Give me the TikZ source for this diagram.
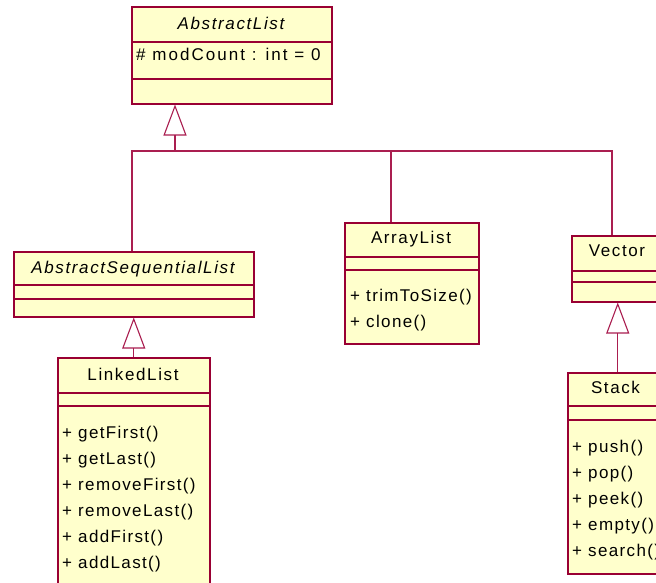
\documentclass[tikz,border=0pt]{standalone}
\usepackage{fontspec}
\setmainfont{Liberation Sans}
\newfontfamily\opsfont[LetterSpace=8]{Liberation Sans}
\newfontfamily\ttlfont[LetterSpace=9.5]{Liberation Sans}
\newfontfamily\attfont[LetterSpace=12]{Liberation Sans}
\usetikzlibrary{arrows.meta}
\definecolor{rr}{RGB}{153,0,51}
\definecolor{linkc}{RGB}{170,30,80}
\definecolor{classfill}{RGB}{255,255,204}
\tikzset{
  cls/.style={draw=rr, fill=classfill, line width=1.5pt, inner sep=0pt, anchor=north west},
  sepline/.style={draw=rr, line width=1.1pt},
  link/.style={draw=linkc, line width=1.1pt},
  gen/.style={link, -{Triangle[open, length=31pt, width=23pt, fill=white]}},
  ttl/.style={font=\ttlfont\fontsize{17}{20}\selectfont, anchor=base, inner sep=0pt},
  ittl/.style={font=\ttlfont\itshape\fontsize{17}{20}\selectfont, anchor=base, inner sep=0pt},
  att/.style={font=\attfont\fontsize{17}{20}\selectfont, anchor=base west, inner sep=0pt},
  op/.style={font=\opsfont\fontsize{17}{20}\selectfont, anchor=base west, inner sep=0pt},
}
\newcommand{\seps}[3]{%
  \draw[sepline] ([yshift=-#2pt]#1.north west) -- ([yshift=-#2pt]#1.north east);
  \draw[sepline] ([yshift=-#3pt]#1.north west) -- ([yshift=-#3pt]#1.north east);}
\begin{document}
\begin{tikzpicture}[x=1pt,y=-1pt]
\useasboundingbox (0,0) rectangle (656,582);
\fill[white] (0,0) rectangle (656,582);
\clip (0,0) rectangle (656,582);

% AbstractList
\node[cls, minimum width=200pt, minimum height=97pt] (al) at (131,6) {};
\seps{al}{36}{73}
\node[ittl] (alname) at (231,29.5) {AbstractList};
\node[att] (alatt) at (136,60) {\# modCount : int = 0};

% AbstractSequentialList
\node[cls, minimum width=240pt, minimum height=65pt] (asl) at (13,251) {};
\seps{asl}{34}{48}
\node[ittl] (aslname) at (133,273.3) {AbstractSequentialList};

% LinkedList
\node[cls, minimum width=152pt, minimum height=260pt] (ll) at (57,357) {};
\seps{ll}{36}{49}
\node[ttl] (llname) at (133,380) {LinkedList};
\node[op] (ll1) at (62,438) {+ getFirst()};
\node[op] (ll2) at (62,464) {+ getLast()};
\node[op] (ll3) at (62,490) {+ removeFirst()};
\node[op] (ll4) at (62,516) {+ removeLast()};
\node[op] (ll5) at (62,542) {+ addFirst()};
\node[op] (ll6) at (62,568) {+ addLast()};

% ArrayList
\node[cls, minimum width=134pt, minimum height=121pt] (arr) at (344,222) {};
\seps{arr}{35}{48}
\node[ttl] (arrname) at (411,243.3) {ArrayList};
\node[op] (arr1) at (350,301) {+ trimToSize()};
\node[op] (arr2) at (350,327) {+ clone()};

% Vector
\node[cls, minimum width=92pt, minimum height=66pt] (vec) at (571,235) {};
\seps{vec}{36}{47}
\node[ttl] (vecname) at (617,256.7) {Vector};

% Stack
\node[cls, minimum width=97pt, minimum height=201pt] (stk) at (567,372) {};
\seps{stk}{34}{48}
\node[ttl] (stkname) at (615.5,393.3) {Stack};
\node[op] (stk1) at (572,452) {+ push()};
\node[op] (stk2) at (572,478) {+ pop()};
\node[op] (stk3) at (572,504) {+ peek()};
\node[op] (stk4) at (572,530) {+ empty()};
\node[op] (stk5) at (572,556) {+ search()};

% connectors
\coordinate (j1) at (175,151);
\coordinate (jl) at (132,151);
\coordinate (ja) at (391,151);
\coordinate (jr) at (612,151);
\draw[link] (asl.north -| jl) -- (jl) -- (jr) -- (vec.north -| jr);
\draw[link] (ja) -- (arr.north -| ja);
\draw[gen] (j1) -- (al.south -| j1);
\draw[gen] (ll.north) -- (asl.south);
\draw[gen] (vec.south |- stk.north) -- (vec.south);
\end{tikzpicture}
\end{document}
